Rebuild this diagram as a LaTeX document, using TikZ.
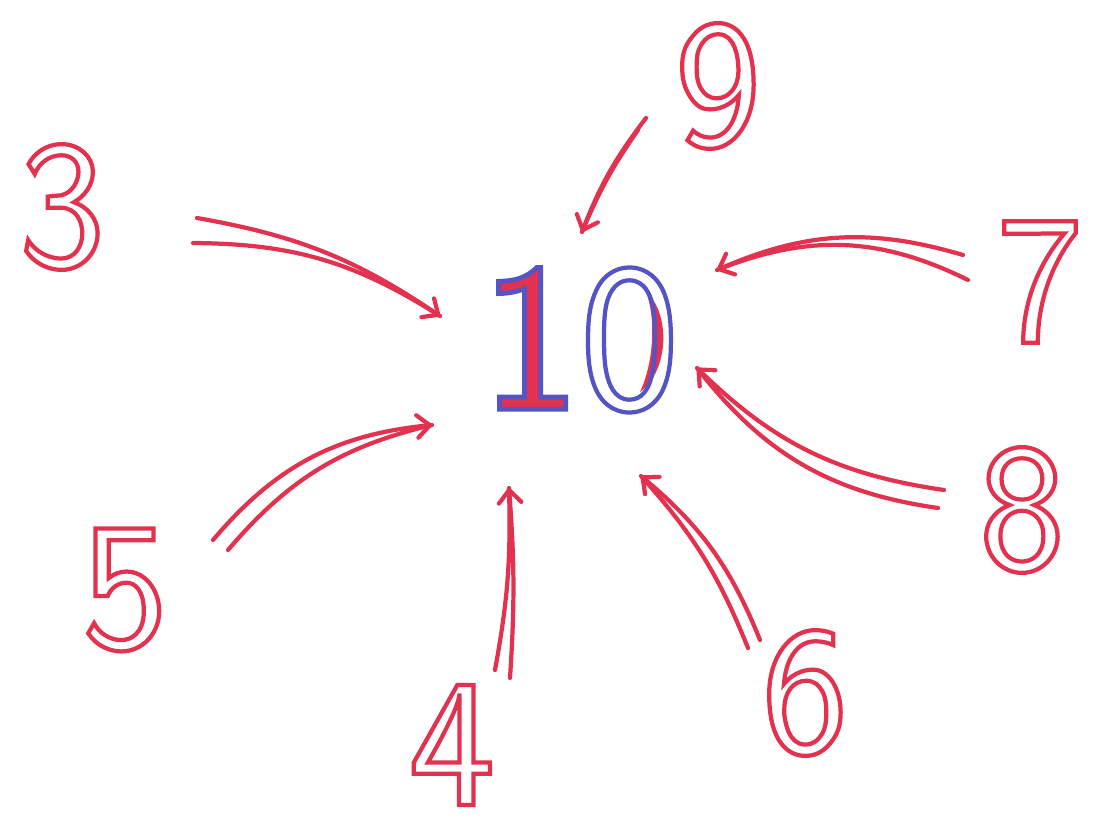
\documentclass[tikz,border=0pt]{standalone}
\usepackage{xcolor}
\usetikzlibrary{arrows.meta,positioning}

\definecolor{penred}{RGB}{226,50,80}
\definecolor{penblue}{RGB}{84,84,196}

% hollow (stroked) digits, done with pdf text render modes
\newcommand{\hollow}[1]{\special{pdf:literal 1 Tr 3 w}#1\special{pdf:literal 0 Tr 0.4 w}}
\newcommand{\filledin}[1]{{\color{penred}\special{pdf:literal 2 Tr 3.4 w 0.33 0.33 0.77 RG}#1\special{pdf:literal 0 Tr 0.4 w}}}

\begin{document}
\begin{tikzpicture}[x=0.025cm,y=-0.025cm,
  pen/.style={penred,line width=3pt,line cap=round},
  tip/.style={-{Straight Barb[length=9pt,width=16pt,line cap=round,line join=round]}},
  digit/.style={penred,inner sep=0pt,font=\fontsize{130}{130}\selectfont\sffamily},
  centre/.style={penblue,inner sep=0pt,font=\fontsize{150}{150}\selectfont\sffamily}]
  \useasboundingbox (0,0) rectangle (1093,835);

  % the middle
  \fill[penred] (646,292) .. controls (670,312) and (670,370) .. (640,392)
               .. controls (654,362) and (656,318) .. (646,292);
  \node[centre] (ten) at (580,340) {\filledin{1}\hollow{0}};

  % the numbers round it
  \node[digit] (n3) at (62,207)  {\hollow{3}};
  \node[digit] (n9) at (718,86)  {\hollow{9}};
  \node[digit] (n7) at (1040,282) {\hollow{7}};
  \node[digit] (n8) at (1022,510) {\hollow{8}};
  \node[digit] (n6) at (805,693) {\hollow{6}};
  \node[digit] (n4) at (452,745) {\hollow{4}};
  \node[digit] (n5) at (125,590) {\hollow{5}};

  % ends of the arrows
  \coordinate (a3) at (197,218);  \coordinate (b3) at (193,243);  \coordinate (t3) at (440,316);
  \coordinate (a9) at (646,118);  \coordinate (b9) at (638,130);  \coordinate (t9) at (582,232);
  \coordinate (a7) at (963,255);  \coordinate (b7) at (968,280);  \coordinate (t7) at (717,270);
  \coordinate (a8) at (944,490);  \coordinate (b8) at (938,508);  \coordinate (t8) at (697,368);
  \coordinate (a6) at (760,640);  \coordinate (b6) at (748,648);  \coordinate (t6) at (641,476);
  \coordinate (a4) at (495,670);  \coordinate (b4) at (510,678);  \coordinate (t4) at (509,488);
  \coordinate (a5) at (213,540);  \coordinate (b5) at (228,550);  \coordinate (t5) at (432,425);

  % double strokes, one of them with the head
  \draw[pen,tip] (a3) to[bend left=12] (t3);
  \draw[pen]     (b3) to[bend left=16] (t3);
  \draw[pen,tip] (a9) to[bend right=8] (t9);
  \draw[pen]     (b9) to[bend right=6] (t9);
  \draw[pen,tip] (a7) to[bend right=20] (t7);
  \draw[pen]     (b7) to[bend right=24] (t7);
  \draw[pen,tip] (a8) to[bend left=18] (t8);
  \draw[pen]     (b8) to[bend left=22] (t8);
  \draw[pen,tip] (a6) to[bend right=14] (t6);
  \draw[pen]     (b6) to[bend right=10] (t6);
  \draw[pen,tip] (b4) to[bend right=4] (t4);
  \draw[pen]     (a4) to[bend right=6] (t4);
  \draw[pen,tip] (a5) to[bend left=22] (t5);
  \draw[pen]     (b5) to[bend left=18] (t5);
\end{tikzpicture}
\end{document}
